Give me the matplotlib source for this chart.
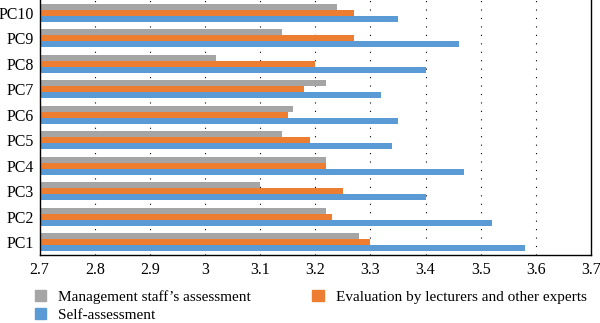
import matplotlib
matplotlib.use("Agg")
import matplotlib.pyplot as plt
import numpy as np
from matplotlib.patches import Patch

plt.rcParams['font.family'] = ['Liberation Serif', 'DejaVu Serif']

# data
categories = ["PC1", "PC2", "PC3", "PC4", "PC5", "PC6", "PC7", "PC8", "PC9", "PC10"]
self_assessment = [3.58, 3.52, 3.40, 3.47, 3.34, 3.35, 3.32, 3.40, 3.46, 3.35]
lecturers_experts = [3.30, 3.23, 3.25, 3.22, 3.19, 3.15, 3.18, 3.20, 3.27, 3.27]
management_staff = [3.28, 3.22, 3.10, 3.22, 3.14, 3.16, 3.22, 3.02, 3.14, 3.24]
x_ticks = [2.7, 2.8, 2.9, 3.0, 3.1, 3.2, 3.3, 3.4, 3.5, 3.6, 3.7]
x_tick_labels = ["2.7", "2.8", "2.9", "3", "3.1", "3.2", "3.3", "3.4", "3.5", "3.6", "3.7"]

c_blue = "#5B9BD5"
c_orange = "#ED7D31"
c_gray = "#A5A5A5"

fig = plt.figure(figsize=(6.0, 3.23), dpi=100)
ax = fig.add_axes([0.066, 0.21, 0.919, 0.79])

y = np.arange(len(categories))
h = 0.235
step = 0.235
ax.barh(y - step, self_assessment, height=h, color=c_blue, zorder=2)
ax.barh(y, lecturers_experts, height=h, color=c_orange, zorder=2)
ax.barh(y + step, management_staff, height=h, color=c_gray, zorder=2)

ax.set_xlim(2.7, 3.7)
ax.set_ylim(-0.5, 9.5)
ax.set_xticks(x_ticks)
ax.set_xticklabels(x_tick_labels)
ax.set_yticks(y)
ax.set_yticklabels(categories)
ax.tick_params(axis="both", length=0, labelsize=11.5)
ax.tick_params(axis="x", pad=5)
ax.tick_params(axis="y", pad=4)

# sparse dotted vertical grid
for xv in x_ticks[1:-1]:
    ax.axvline(xv, color="black", linewidth=0.8, linestyle=(0, (1, 6.6)), zorder=1)

for side in ["left", "bottom", "right"]:
    ax.spines[side].set_color("black")
    ax.spines[side].set_linewidth(1.0)
ax.spines["top"].set_visible(False)

handles = [
    Patch(color=c_gray, label="Management staff\u2019s assessment"),
    Patch(color=c_blue, label="Self-assessment"),
    Patch(color=c_orange, label="Evaluation by lecturers and other experts"),
]
fig.legend(handles=handles, ncol=2, loc="upper left", bbox_to_anchor=(0.058, 0.103),
           frameon=False, fontsize=11, handlelength=0.75, handleheight=0.75,
           handletextpad=0.8, columnspacing=4.0, labelspacing=0.3,
           borderaxespad=0, borderpad=0)

fig.savefig("out.png", dpi=100)
